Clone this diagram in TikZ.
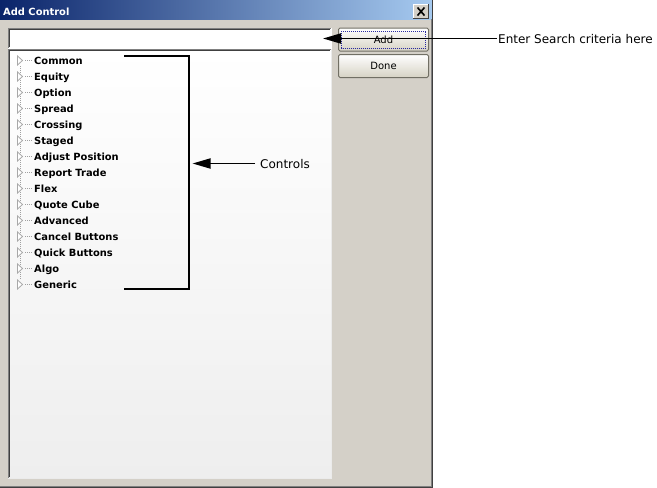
\documentclass[tikz,border=0pt]{standalone}
\usepackage{fontspec}
\setmainfont{DejaVu Sans}
\usetikzlibrary{arrows.meta}
\definecolor{winbg}{HTML}{D4D0C8}
\definecolor{tdark}{HTML}{0A246A}
\definecolor{tlight}{HTML}{A6CAF0}
\definecolor{shadowc}{HTML}{808080}
\definecolor{darkc}{HTML}{404040}
\definecolor{treebot}{HTML}{EEEEEE}
\definecolor{btnbord}{HTML}{716F64}
\definecolor{btnbot}{HTML}{D6D2C4}
\definecolor{focusc}{HTML}{2A2AA0}
\definecolor{triC}{HTML}{A8A8A8}
\definecolor{dotC}{HTML}{A0A0A0}
\tikzset{
  titletxt/.style={anchor=base west, inner sep=0pt, text=white, font=\fontsize{9.9}{12}\selectfont\bfseries},
  itemtxt/.style={anchor=base west, inner sep=0pt, font=\fontsize{9.9}{12}\selectfont\bfseries},
  anntxt/.style={anchor=west, inner sep=0pt, text height=9pt, text depth=0pt, font=\fontsize{12}{14}\selectfont},
  field/.style={inner sep=0pt, fill=white},
  treebox/.style={inner sep=0pt, top color=white, bottom color=treebot},
  btn/.style={inner sep=0pt, minimum width=90pt, minimum height=23pt, rounded corners=1.5pt,
              draw=btnbord, line width=1pt, top color=white, bottom color=btnbot,
              font=\fontsize{10}{12}\selectfont},
  arr/.style={line width=1.8pt, -{Triangle[length=18pt,width=10pt]}},
  bracketline/.style={line width=2pt},
  treedot/.style={dotC, line width=1pt, dash pattern=on 1pt off 1pt},
  expander/.style={triC, line width=0.8pt, fill=white},
}
\begin{document}
\begin{tikzpicture}[x=1pt,y=-1pt]
\useasboundingbox (0,0) rectangle (657,488);
\fill[white] (0,0) rectangle (657,488);
% window
\fill[winbg] (0,0) rectangle (432,487);
\shade[left color=tdark, right color=tlight] (0,0) rectangle (432,19);
\draw[shadowc, line width=1pt] (431.5,19) -- (431.5,486.5) -- (0,486.5);
\draw[darkc, line width=1pt] (432.5,0) -- (432.5,487.5) -- (0,487.5);
\node[titletxt] (title) at (3,15) {Add Control};
% close button
\node[inner sep=0pt, minimum width=16pt, minimum height=15pt, fill=winbg] (closebtn) at (421,11.5) {};
\draw[white, line width=1pt] (closebtn.south west) ++(0.5,-0.5) |- ([shift={(-0.5,0.5)}]closebtn.north east);
\draw[darkc, line width=1pt] ([shift={(0.5,-0.5)}]closebtn.south west) -| ([shift={(-0.5,0.5)}]closebtn.north east);
\draw[black, line width=1.6pt] (417.5,7.5) -- (424.5,15.5) (424.5,7.5) -- (417.5,15.5);
% search field
\node[field, minimum width=323pt, minimum height=20pt] (search) at (169.5,38) {};
\draw[shadowc, line width=1pt] (8.5,48) -- (8.5,28.5) -- (331,28.5);
\draw[darkc, line width=1pt] (9.5,47) -- (9.5,29.5) -- (330,29.5);
\draw[white, line width=1pt] (8,48.5) -- (331.5,48.5) -- (331.5,28);
% tree
\node[treebox, minimum width=323pt, minimum height=429pt] (tree) at (169.5,263.5) {};
\draw[shadowc, line width=1pt] (8.5,478) -- (8.5,49.5) -- (331,49.5);
\draw[darkc, line width=1pt] (9.5,477) -- (9.5,50.5) -- (330,50.5);
\draw[white!92!black, line width=1pt] (8,478.5) -- (331.5,478.5) -- (331.5,49);
\draw[treedot] (20,66) -- (20,280);
\foreach \t [count=\i] in {Common,Equity,Option,Spread,Crossing,Staged,Adjust Position,Report Trade,Flex,Quote Cube,Advanced,Cancel Buttons,Quick Buttons,Algo,Generic} {
  \pgfmathsetmacro\yy{60+16*(\i-1)}
  \draw[treedot] (25,\yy+0.5) -- (32,\yy+0.5);
  \draw[expander] (17.5,\yy-4) -- (22.5,\yy+0.5) -- (17.5,\yy+5) -- cycle;
  \node[itemtxt] (item\i) at (34,\yy+4) {\t};
}
% buttons
\node[btn] (addbtn) at (383.5,39.5) {Add};
\draw[focusc, line width=0.8pt, dash pattern=on 1pt off 1pt] ([shift={(3.5,3.5)}]addbtn.north west) rectangle ([shift={(-3.5,-3.5)}]addbtn.south east);
\node[btn] (donebtn) at (383.5,66) {Done};
% annotations
\node[anntxt] (lblsearch) at (498,38.5) {Enter Search criteria here};
\coordinate (searchtip) at (323,38.5);
\draw[arr, shorten <=1.5pt] (lblsearch.west) -- (searchtip);
\coordinate (bt) at (124,56);
\coordinate (bx) at (189,163.5);
\coordinate (bb) at (124,289);
\draw[bracketline] (bt) -| (bx) |- (bb);
\node[anntxt] (lblctrl) at (260,163.5) {Controls};
\coordinate (ctrltip) at (192.5,163.5);
\draw[arr, shorten <=5pt] (lblctrl.west) -- (ctrltip);
\end{tikzpicture}
\end{document}
